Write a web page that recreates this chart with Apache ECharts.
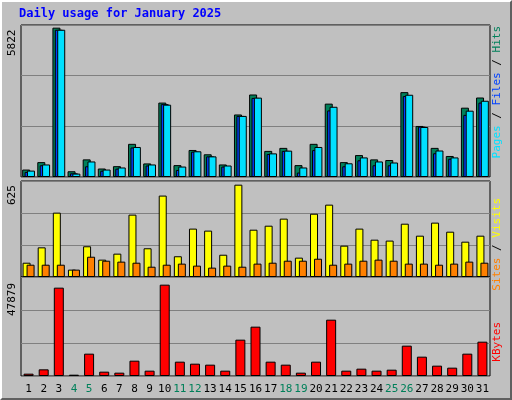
<!DOCTYPE html>
<html>
<head>
<meta charset="utf-8">
<script src="https://cdn.jsdelivr.net/npm/echarts@6/dist/echarts.min.js"></script>
<style>
  html, body { margin: 0; padding: 0; background: #c0c0c0; }
  #chart { width: 508px; height: 396px; border: 2px solid; border-color: #ffffff #606060 #606060 #ffffff; }
</style>
</head>
<body>
<div id="chart"></div>
<script>
const days = ['1','2','3','4','5','6','7','8','9','10','11','12','13','14','15','16','17','18','19','20','21','22','23','24','25','26','27','28','29','30','31'];
const weekends = ['4','5','11','12','18','19','25','26'];

const hits  = [285, 570, 5720, 220, 675, 325, 415, 1270, 520, 2850, 455, 1035, 870, 480, 2395, 3160, 1000, 1115, 455, 1270, 2810, 570, 840, 675, 650, 3250, 1955, 1115, 805, 2655, 3045];
const files = [195, 450, 5640, 140, 410, 240, 320, 1130, 440, 2790, 270, 970, 790, 400, 2340, 3030, 880, 1000, 170, 1030, 2550, 410, 640, 450, 450, 3100, 1930, 910, 700, 2380, 2850];
const pages = [245, 480, 5640, 130, 595, 285, 365, 1150, 480, 2770, 400, 985, 790, 440, 2340, 3040, 905, 1010, 365, 1150, 2690, 525, 750, 595, 555, 3150, 1915, 1015, 750, 2540, 2920];
const visits = [93, 193, 419, 48, 200, 113, 152, 406, 187, 530, 135, 315, 302, 145, 601, 308, 334, 380, 126, 412, 471, 204, 315, 243, 237, 347, 269, 354, 295, 230, 269];
const sites  = [80, 80, 80, 48, 132, 106, 100, 93, 67, 80, 87, 74, 61, 74, 67, 87, 93, 106, 106, 119, 80, 87, 106, 113, 106, 87, 87, 80, 87, 100, 93];
const kbytes = [1130, 3220, 42720, 640, 10800, 2100, 1610, 7410, 2580, 44170, 6930, 5960, 5480, 2580, 17570, 23860, 6930, 5480, 1610, 6930, 27240, 2580, 3550, 2580, 3060, 14670, 9350, 5000, 4030, 10800, 16600];

const maxHits = 5822, maxVisits = 625, maxKbytes = 47879;

const chart = echarts.init(document.getElementById('chart'));
const font = 'DejaVu Sans Mono';
const L = 19, R = 20;
const grids = [
  { left: L, right: R, top: 23, height: 152 },
  { left: L, right: R, top: 179, height: 96 },
  { left: L, right: R, top: 275, height: 99 }
];
const frame = { show: true, backgroundColor: '#c0c0c0', borderColor: '#000', borderWidth: 1 };

const xAxes = grids.map((g, i) => ({
  type: 'category', gridIndex: i, data: days,
  axisLine: { show: false }, axisTick: { show: false },
  axisLabel: i === 2 ? {
    show: true, interval: 0, margin: 8, fontFamily: font, fontSize: 11,
    formatter: v => weekends.includes(v) ? '{w|' + v + '}' : '{n|' + v + '}',
    rich: { w: { color: '#00805a', fontFamily: font, fontSize: 11 }, n: { color: '#000', fontFamily: font, fontSize: 11 } }
  } : { show: false }
}));
const yAxes = [maxHits, maxVisits, maxKbytes].map((m, i) => ({
  type: 'value', gridIndex: i, min: 0, max: m, interval: m / 3,
  axisLabel: { show: false }, axisLine: { show: false }, axisTick: { show: false },
  splitLine: { lineStyle: { color: '#808080', width: 1 } }
}));
const bar = (name, data, idx, color, width, gap) => ({
  name, type: 'bar', data, xAxisIndex: idx, yAxisIndex: idx, barWidth: width, barGap: gap,
  itemStyle: { color, borderColor: '#000', borderWidth: 1 }, silent: true
});

const sideText = (y, parts) => ({
  type: 'text', left: 490, top: y, rotation: Math.PI / 2,
  style: {
    text: parts.map(p => '{' + p[1] + '|' + p[0] + '}').join(''),
    fontFamily: font, fontSize: 11,
    rich: Object.fromEntries(parts.map(p => [p[1], { fill: p[2], fontFamily: font, fontSize: 11 }]))
  }
});

chart.setOption({
  backgroundColor: '#c0c0c0',
  animation: false,
  grid: grids.map(g => Object.assign({}, g, frame)),
  xAxis: xAxes,
  yAxis: yAxes,
  series: [
    bar('Hits', hits, 0, '#00805a', 8, '-70%'),
    bar('Files', files, 0, '#0040ff', 8, '-70%'),
    bar('Pages', pages, 0, '#00e0ff', 8, '-70%'),
    bar('Visits', visits, 1, '#ffff00', 8, '-50%'),
    bar('Sites', sites, 1, '#ff8000', 8, '-50%'),
    bar('KBytes', kbytes, 2, '#ff0000', 10, '0%')
  ],
  graphic: [
    { type: 'text', left: 17, top: 6, style: { text: 'Daily usage for January 2025', fill: '#0000ff', font: 'bold 12px ' + font } },
    { type: 'text', x: 5, y: 54, rotation: Math.PI / 2, style: { text: String(maxHits), fill: '#000', font: '11px ' + font } },
    { type: 'text', x: 5, y: 203, rotation: Math.PI / 2, style: { text: String(maxVisits), fill: '#000', font: '11px ' + font } },
    { type: 'text', x: 5, y: 314, rotation: Math.PI / 2, style: { text: String(maxKbytes), fill: '#000', font: '11px ' + font } },
    sideText(24, [['Pages', 'a', '#00e0ff'], [' / ', 'b', '#000'], ['Files', 'c', '#0040ff'], [' / ', 'd', '#000'], ['Hits', 'e', '#00805a']]),
    sideText(196, [['Sites', 'a', '#ff8000'], [' / ', 'b', '#000'], ['Visits', 'c', '#ffff00']]),
    sideText(320, [['KBytes', 'a', '#ff0000']])
  ]
});
</script>
</body>
</html>
